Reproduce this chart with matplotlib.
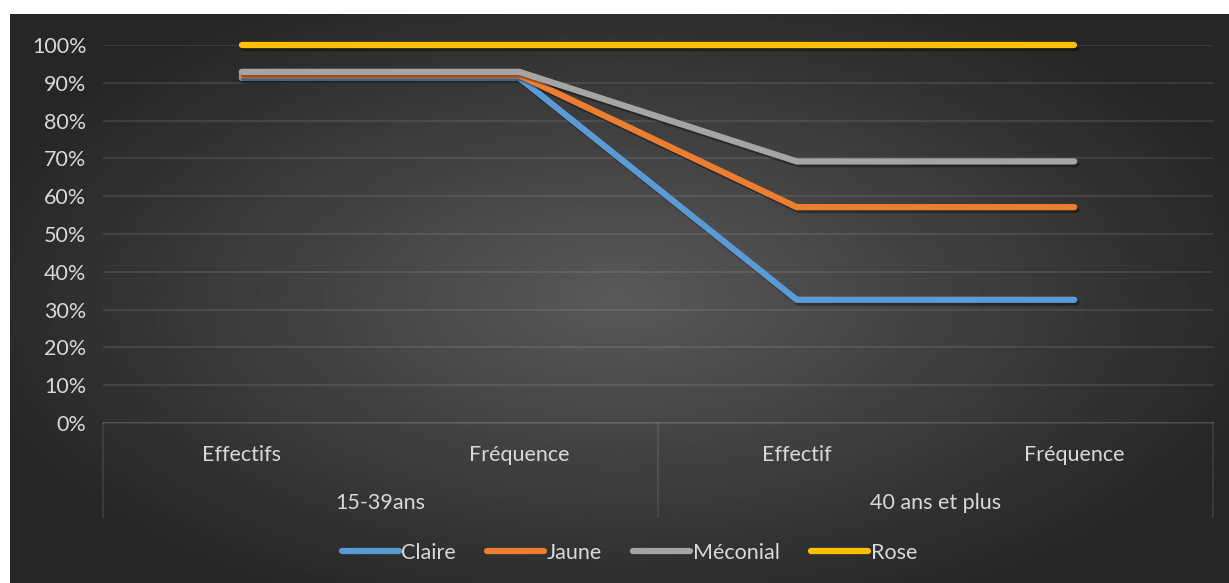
import matplotlib.pyplot as plt
import matplotlib.patheffects as pe
import numpy as np
from matplotlib.ticker import PercentFormatter

plt.rcParams['font.family'] = ['Lato', 'DejaVu Sans']

# categories (two levels) and series values
sub_labels = ['Effectifs', 'Fréquence', 'Effectif', 'Fréquence']
groups = ['15-39ans', '40 ans et plus']
series = ['Claire', 'Jaune', 'Méconial', 'Rose']
claire = [0.913, 0.913, 0.326, 0.326]
jaune = [0.920, 0.920, 0.571, 0.571]
meconial = [0.929, 0.929, 0.692, 0.692]
rose = [1.0, 1.0, 1.0, 1.0]
colors = ['#5B9BD5', '#ED7D31', '#A5A5A5', '#FFC000']

W, H = 1229, 583
fs = 15.5
fig = plt.figure(figsize=(W / 100, H / 100), dpi=100)
fig.patch.set_facecolor('white')

# dark radial gradient backdrop
bg = fig.add_axes([10 / W, 0, 1 - 10 / W, 1 - 14 / H])
yy, xx = np.mgrid[-1:1:300j, -1:1:600j]
r = np.sqrt((xx / 1.1) ** 2 + (yy / 1.2) ** 2)
shade = np.clip(0.35 - 0.2 * r, 0.15, 0.35)
bg.imshow(shade, cmap='gray', vmin=0, vmax=1, aspect='auto', extent=[0, 1, 0, 1])
bg.set_axis_off()

x0, x1, ytop, ybot = 103, 1213, 45, 423
ax = fig.add_axes([x0 / W, 1 - ybot / H, (x1 - x0) / W, (ybot - ytop) / H])
ax.set_facecolor('none')
ax.set_xlim(0, 4)
ax.set_ylim(0, 1)
ax.set_yticks(np.arange(0, 1.01, 0.1))
ax.yaxis.set_major_formatter(PercentFormatter(1.0, decimals=0))
ax.set_xticks([])
for s in ax.spines.values():
    s.set_visible(False)
ax.tick_params(axis='y', length=0, pad=12, labelsize=fs, labelcolor='#D9D9D9')
ax.grid(axis='y', color='#FFFFFF', alpha=0.11, linewidth=1.2)
ax.set_axisbelow(True)

xs = np.arange(4) + 0.5
shadow = [pe.SimpleLineShadow(offset=(1.5, -2), alpha=0.35, shadow_color='black'), pe.Normal()]
for name, vals, c in zip(series, [claire, jaune, meconial, rose], colors):
    ax.plot(xs, vals, color=c, linewidth=4.5, solid_capstyle='round',
            solid_joinstyle='round', label=name, path_effects=shadow, clip_on=False)

# multi-level category axis
grid_c = (1, 1, 1, 0.11)
ax.plot([0, 4], [0, 0], color=grid_c, linewidth=1.2, clip_on=False)
for xv in [0, 2, 4]:
    ax.plot([xv, xv], [0, -0.249], color=grid_c, linewidth=1.2, clip_on=False)
for xv, lab in zip(xs, sub_labels):
    ax.text(xv, -0.085, lab, ha='center', va='center', color='#D9D9D9', fontsize=fs)
for i, g in enumerate(groups):
    ax.text(2 * i + 1, -0.212, g, ha='center', va='center', color='#D9D9D9', fontsize=fs)

leg = fig.legend(loc='center', bbox_to_anchor=(0.512, 1 - 553 / H), ncol=4, frameon=False,
                 handlelength=2.65, handletextpad=0.12, columnspacing=1.45, fontsize=fs)
for t in leg.get_texts():
    t.set_color('#D9D9D9')
for h in leg.get_lines():
    h.set_path_effects([])
    h.set_solid_capstyle('round')

fig.savefig('out.png', dpi=100)
